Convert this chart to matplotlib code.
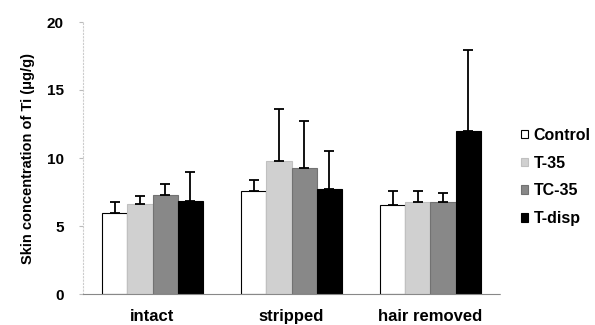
import matplotlib
matplotlib.use("Agg")
import matplotlib.pyplot as plt
import numpy as np

plt.rcParams['font.family'] = ['Liberation Sans', 'DejaVu Sans']
plt.rcParams['font.weight'] = 'bold'

categories = ["intact", "stripped", "hair removed"]
series_names = ["Control", "T-35", "TC-35", "T-disp"]
means = {
    "Control": [5.95, 7.55, 6.55],
    "T-35":    [6.6, 9.75, 6.8],
    "TC-35":   [7.25, 9.3, 6.75],
    "T-disp":  [6.85, 7.7, 11.95],
}
errors = {
    "Control": [0.85, 0.85, 1.0],
    "T-35":    [0.6, 3.85, 0.8],
    "TC-35":   [0.85, 3.4, 0.65],
    "T-disp":  [2.15, 2.85, 6.0],
}
yticks = [0, 5, 10, 15, 20]

face = {"Control": "white", "T-35": "#d0d0d0", "TC-35": "#888888", "T-disp": "black"}
edge = {"Control": "black", "T-35": "#c0c0c0", "TC-35": "#727272", "T-disp": "black"}

fig = plt.figure(figsize=(5.95, 3.25), dpi=100)
ax = fig.add_axes([83/595, 1-294/325, (500-83)/595, (294-22)/325])

x = np.arange(len(categories))
w = 0.18
for i, name in enumerate(series_names):
    pos = x + (i - 1.5) * w
    ax.bar(pos, means[name], width=w, color=face[name], edgecolor=edge[name],
           linewidth=0.8, label=name, zorder=2)
    ax.errorbar(pos, means[name], yerr=[np.zeros(3), errors[name]], fmt='none',
                ecolor='black', elinewidth=1.3, capsize=3.5, capthick=1.3, zorder=3)

ax.set_xlim(-0.5, 2.5)
ax.set_ylim(0, 20)
ax.set_yticks(yticks)
ax.set_yticklabels([str(t) for t in yticks], fontsize=11, fontweight='bold')
ax.set_xticks(x)
ax.set_xticklabels(categories, fontsize=12, fontweight='bold')
ax.tick_params(axis='x', length=0, pad=11)
ax.tick_params(axis='y', length=3, color='#bbbbbb', pad=11)

for side in ['top', 'right']:
    ax.spines[side].set_visible(False)
ax.spines['left'].set_color('#cccccc')
ax.spines['left'].set_linestyle((0, (1, 2)))
ax.spines['left'].set_linewidth(0.8)
ax.spines['bottom'].set_color('#888888')
ax.spines['bottom'].set_linestyle((0, (1, 1)))
ax.spines['bottom'].set_linewidth(0.8)

ax.set_ylabel("Skin concentration of Ti (\u03bcg/g)", fontsize=10.5, fontweight='bold', labelpad=8)

leg = ax.legend(loc='center left', bbox_to_anchor=(1.035, 0.43), frameon=False,
                fontsize=11.5, handlelength=0.45, handleheight=0.45, handletextpad=0.35,
                labelspacing=0.8, borderaxespad=0)
for t in leg.get_texts():
    t.set_fontweight('bold')

fig.savefig("out.png", dpi=100)
